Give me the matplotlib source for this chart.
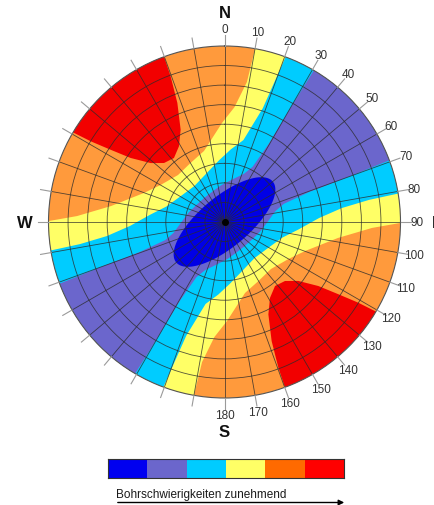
import numpy as np
import matplotlib
matplotlib.use("Agg")
import matplotlib.pyplot as plt
from matplotlib.colors import ListedColormap
from matplotlib.patches import FancyArrowPatch

plt.rcParams['font.family'] = ['Liberation Sans', 'DejaVu Sans']

# ---------------- data (azimuth: degrees clockwise from N, dip 0 = centre .. 90 = rim) -------------
# colours of the six difficulty classes (low -> high)
chart_colors = ['#0000e6', '#6b66cc', '#00ccff', '#ffff66', '#ff9a3c', '#f20000']
bar_colors = ['#0000f0', '#6b66cc', '#00ccff', '#ffff66', '#ff6a00', '#ff0000']
class_index = [0, 1, 2, 3, 4, 5]

# class boundaries in the north-west half (south-east half is point-symmetric: az + 180)
# yellow / orange boundary
yo_az = [10.0, 9.1, 5.0, 358.5, 343.9, 330.0, 315.3, 300.0, 289.8, 278.0, 272.3, 270.3]
yo_dip = [90, 72.5, 59.0, 50.6, 37.8, 34.8, 33.8, 37.8, 43.8, 58.6, 75.5, 90]
# cyan / yellow boundary
cy_az = [20.3, 18.6, 13.0, 5.0, 355.0, 340.0, 320.0, 300.0, 285.0, 275.6, 267.6, 263.2, 261.3, 260.7]
cy_dip = [90, 61.4, 43.0, 37.3, 31.7, 26.6, 24.0, 26.1, 30.7, 38.2, 48.4, 60.5, 74.8, 90]
# purple / cyan boundary
pc_az = [30.5, 30.0, 29.5, 27.0, 22.0, 10.0, 355.0, 340.0, 320.0, 300.0, 285.0, 270.0,
         258.0, 253.0, 250.5, 250.0, 249.5]
pc_dip = [90, 66.5, 46.0, 31.7, 26.6, 22.0, 18.9, 16.9, 16.1, 16.9, 18.9, 22.0,
          26.6, 31.7, 46.0, 66.5, 90]
# orange / red boundary (red lobe)
red_az = [339.9, 339.7, 338.4, 334.6, 329.0, 321.7, 314.3, 308.6, 304.3, 302.4, 301.1, 300.6]
red_dip = [90, 79.4, 65.5, 52.3, 45.2, 41.7, 43.2, 48.3, 58.1, 68.9, 79.9, 90]
# central blue ellipse
ellipse_axis_az = 50.0
ellipse_semi_major = 32.2
ellipse_semi_minor = 12.8

tick_angles = list(range(0, 360, 10))
label_angles = list(range(0, 190, 10))
cardinals = {'N': 0, 'E': 90, 'S': 180, 'W': 270}
legend_text = 'Bohrschwierigkeiten zunehmend'

# ---------------- figure ----------------
W, H = 434, 506
fig = plt.figure(figsize=(W / 100, H / 100), dpi=100)
cx, cy, R = 224.5, 223.0, 176.0
ax = fig.add_axes([(cx - R) / W, (H - cy - R) / H, 2 * R / W, 2 * R / H], projection='polar')
ax.set_theta_zero_location('N')
ax.set_theta_direction(-1)
ax.set_ylim(0, 90)
ax.set_facecolor(chart_colors[4])


def band_polygon(az, dip, out=130):
    t = np.unwrap(np.radians(az))
    d = np.asarray(dip, float)
    t2 = t - np.pi
    n = 10
    arc1 = np.linspace(t[-1], t2[0], n)
    arc2 = np.linspace(t2[-1], t[0] - 2 * np.pi, n)
    theta = np.concatenate([t, arc1, t2, arc2])
    r = np.concatenate([d, np.full(n, out), d, np.full(n, out)])
    return theta, r


def lobe_polygon(az, dip, shift=0.0, out=130):
    t = np.unwrap(np.radians(az)) + shift
    d = np.asarray(dip, float)
    arc = np.linspace(t[-1], t[0], 8)
    return np.concatenate([t, arc]), np.concatenate([d, np.full(8, out)])


for (a, d), col in [((yo_az, yo_dip), chart_colors[3]),
                    ((cy_az, cy_dip), chart_colors[2]),
                    ((pc_az, pc_dip), chart_colors[1])]:
    th, rr = band_polygon(a, d)
    ax.fill(th, rr, color=col, lw=0, zorder=1)

for shift in (0.0, np.pi):
    th, rr = lobe_polygon(red_az, red_dip, shift)
    ax.fill(th, rr, color=chart_colors[5], lw=0, zorder=1)

s = np.linspace(0, 2 * np.pi, 241)
phi = np.radians(ellipse_axis_az)
xm = ellipse_semi_major * np.cos(s)
ym = ellipse_semi_minor * np.sin(s)
east = xm * np.sin(phi) + ym * np.cos(phi)
north = xm * np.cos(phi) - ym * np.sin(phi)
ax.fill(np.arctan2(east, north), np.hypot(east, north), color=chart_colors[0], lw=0, zorder=1.1)

# grid
ax.set_xticks(np.radians(tick_angles))
ax.set_xticklabels([])
ax.set_yticks(np.arange(10, 90, 10))
ax.set_yticklabels([])
ax.tick_params(axis='both', length=0)
ax.grid(True, color='#2b2b2b', lw=0.6, alpha=0.8)
ax.spines['polar'].set_color('#555555')
ax.spines['polar'].set_linewidth(0.8)
ax.plot([0], [0], 'o', ms=4, color='black', zorder=5)

# outer ticks and labels
for a in tick_angles:
    ax.plot([np.radians(a)] * 2, [90, 95.5], color='#9a9a9a', lw=0.8, clip_on=False, zorder=3)
for a in label_angles:
    ax.text(np.radians(a), 98.5, str(a), ha='center', va='center', fontsize=8.5, color='#333333')
for name, a in cardinals.items():
    if name == 'E':
        ax.text(np.radians(a), 105.8, name, ha='left', va='center', fontsize=12,
                fontweight='bold', color='#111111')
    elif name == 'W':
        ax.text(np.radians(a), 102.0, name, ha='center', va='center', fontsize=12,
                fontweight='bold', color='#111111')
    else:
        ax.text(np.radians(a), 107.0, name, ha='center', va='center', fontsize=12,
                fontweight='bold', color='#111111')

# legend bar
cax = fig.add_axes([108.3 / W, 1 - 479.3 / H, 235.7 / W, 19.3 / H])
cax.imshow(np.array([class_index]), cmap=ListedColormap(bar_colors), aspect='auto',
           interpolation='nearest', vmin=-0.5, vmax=len(bar_colors) - 0.5)
cax.set_xticks([])
cax.set_yticks([])
for sp in cax.spines.values():
    sp.set_linewidth(0.8)
    sp.set_edgecolor('#333333')

fig.text(116 / W, 1 - 498.5 / H, legend_text, ha='left', va='baseline', fontsize=8.5, color='#1a1a1a')
y_arr = 1 - 503.5 / H
fig.add_artist(FancyArrowPatch((115 / W, y_arr), (347 / W, y_arr), transform=fig.transFigure,
                               arrowstyle='-|>', mutation_scale=8, lw=1.0, color='black'))

fig.savefig('out.png', dpi=100)
